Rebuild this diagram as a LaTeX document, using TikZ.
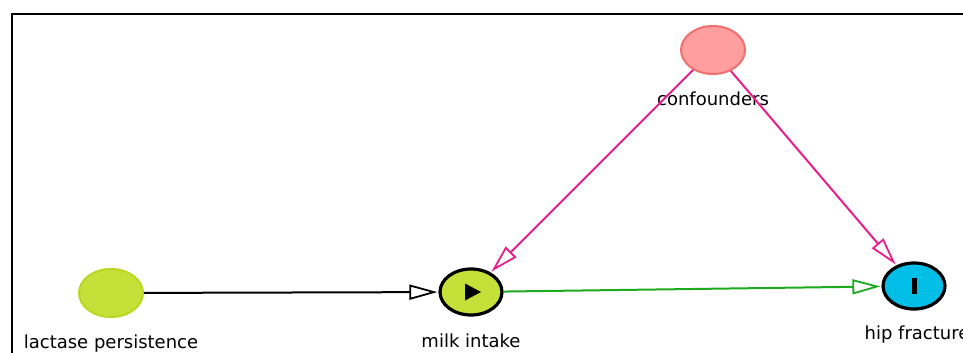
\documentclass[tikz,border=0pt]{standalone}
\usepackage{fontspec}
\setmainfont{DejaVu Sans}
\usetikzlibrary{arrows.meta,shapes.geometric}
\definecolor{confFill}{RGB}{255,158,158}
\definecolor{confLine}{RGB}{240,112,112}
\definecolor{lacFill}{RGB}{198,224,58}
\definecolor{lacLine}{RGB}{184,216,30}
\definecolor{hipFill}{RGB}{0,190,230}
\definecolor{pinkEdge}{RGB}{232,30,140}
\definecolor{greenEdge}{RGB}{30,170,30}
\tikzset{
  vnode/.style={ellipse, minimum width=64pt, minimum height=48pt, inner sep=0pt},
  lbl/.style={font=\fontsize{18}{21}\selectfont, inner sep=0pt, anchor=base},
  edge/.style={line width=2pt, -{Triangle[open, length=28pt, width=15pt, line width=1.8pt]}, shorten >=1pt}
}
\begin{document}
\begin{tikzpicture}[x=1pt,y=-1pt]
\useasboundingbox (0,0) rectangle (963,353);
\fill[white] (0,0) rectangle (963,353);
\draw[line width=2pt] (12,360) -- (12,14) -- (970,14);

\node[vnode, fill=confFill, draw=confLine, line width=2pt] (conf) at (713,50) {};
\node[vnode, fill=lacFill, draw=lacLine, line width=2pt] (lac) at (111,293) {};
\node[vnode, minimum width=62pt, minimum height=46pt, fill=lacFill, draw=black, line width=3.2pt] (milk) at (471,292) {};
\node[vnode, minimum width=62pt, minimum height=46pt, fill=hipFill, draw=black, line width=3.2pt] (hip) at (914,286) {};

\fill[black] (465,283.5) -- (481,292) -- (465,300.5) -- cycle;
\fill[black] (911.5,278) rectangle (916.5,294);

\node[lbl] (confl) at (713,105) {confounders};
\node[lbl] (lacl) at (111,348) {lactase persistence};
\node[lbl] (milkl) at (471,347) {milk intake};
\node[lbl] (hipl) at (917,339) {hip fracture};

\draw[edge, draw=black] (lac) -- (milk);
\draw[edge, draw=greenEdge] (milk) -- (hip);
\draw[edge, draw=pinkEdge] (conf) -- (milk);
\draw[edge, draw=pinkEdge] (conf) -- (hip);
\end{tikzpicture}
\end{document}
